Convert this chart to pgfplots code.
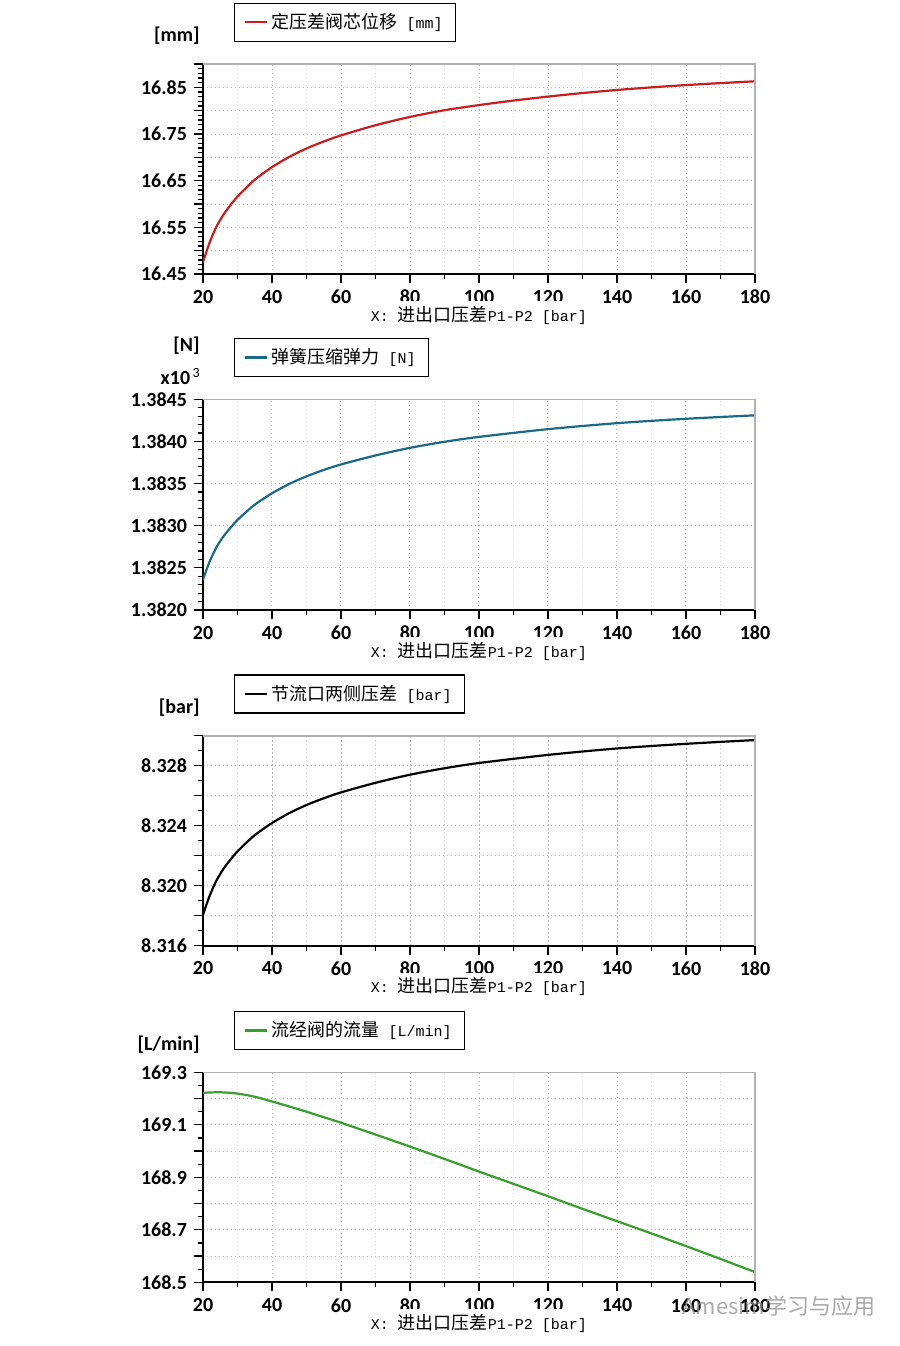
\documentclass[border=0pt]{standalone}
\usepackage{fontspec}
\setmainfont{Carlito}
\setmonofont{Liberation Mono}
\newfontfamily\cjk{Noto Sans CJK SC}
\usepackage{pgfplots}
\usepackage{pgfplotstable}
\pgfplotsset{compat=1.18}
\definecolor{cred}{RGB}{200,30,30}
\definecolor{cblue}{RGB}{25,105,135}
\definecolor{cgreen}{RGB}{55,160,45}
\newcommand\mono[1]{{\ttfamily\fontsize{7.5}{9}\selectfont #1}}
\newcommand\zh[1]{{\cjk\fontsize{9}{11}\selectfont #1}}
\newcommand\bl[1]{{\bfseries\fontsize{10}{12}\selectfont #1}}

\pgfplotstableread{
x y
20 16.4750
21 16.4980
22 16.5190
23 16.5370
24 16.5530
25 16.5660
26 16.5780
28 16.5980
30 16.6160
32 16.6310
35 16.6520
40 16.6790
45 16.7010
50 16.7190
55 16.7340
60 16.7470
70 16.7688
80 16.7866
90 16.8010
100 16.8120
110 16.8217
120 16.8302
130 16.8378
140 16.8444
150 16.8500
160 16.8549
170 16.8591
180 16.8630
}\tabA
\pgfplotstableread{
x y
20 1.382360
21 1.382476
22 1.382581
23 1.382672
24 1.382752
25 1.382817
26 1.382878
28 1.382978
30 1.383069
32 1.383144
35 1.383250
40 1.383385
45 1.383496
50 1.383586
55 1.383662
60 1.383727
70 1.383834
80 1.383924
90 1.383996
100 1.384054
120 1.384146
140 1.384217
160 1.384269
180 1.384310
}\tabB
\pgfplotstableread{
x y
20 8.31805
21 8.31874
22 8.31937
23 8.31991
24 8.32039
25 8.32078
26 8.32115
28 8.32175
30 8.32229
32 8.32274
35 8.32337
40 8.32418
45 8.32484
50 8.32538
55 8.32583
60 8.32622
70 8.32686
80 8.32740
90 8.32783
100 8.32818
120 8.32872
140 8.32915
160 8.32946
180 8.32971
}\tabC
\pgfplotstableread{
x y
20 169.222
25 169.224
30 169.219
35 169.207
40 169.189
45 169.170
50 169.150
55 169.129
60 169.108
70 169.063
80 169.017
90 168.970
100 168.922
110 168.875
120 168.828
130 168.780
140 168.733
150 168.686
160 168.638
170 168.589
180 168.539
}\tabD

\pgfplotsset{
  myax/.style={
    scale only axis, width=276pt, anchor=south west,
    clip mode=individual,
    xmin=20, xmax=180,
    xtick={20,40,60,80,100,120,140,160,180},
    xticklabels={20,40,60,80,100,120,140,160,180},
    minor x tick num=1,
    axis x line*=bottom, axis y line*=left,
    axis line style={-, line width=0.9pt, black},
    tick align=outside, major tick length=4.5pt, minor tick length=2.5pt,
    tick style={black, line width=0.6pt},
    xmajorgrids, ymajorgrids, xminorgrids,
    major grid style={draw=black!28, line width=0.5pt, dash pattern=on 0.7pt off 1.3pt},
    minor grid style={draw=black!14, line width=0.5pt, dash pattern=on 0.7pt off 1.3pt},
    ticklabel style={font=\bfseries\fontsize{10}{12}\selectfont},
    xlabel={\mono{X:\ }\zh{进出口压差}\mono{P1-P2 [bar]}},
    xlabel style={at={(axis description cs:0.5,0)}, anchor=center, yshift=-20.5pt,
      fill=white, inner xsep=4pt, inner ysep=2.5pt},
    legend style={at={(axis description cs:0.056,1.105)}, anchor=south west,
      draw=black, line width=0.6pt, inner xsep=4.5pt, inner ysep=3pt,
      legend cell align=left},
    legend image code/.code={\draw[#1, line width=1.1pt] (0pt,0pt) -- (11pt,0pt);},
  }
}

\begin{document}
\begin{tikzpicture}
\path[use as bounding box] (0pt,0pt) rectangle (450pt,-673pt);

% ---------- plot 1
\begin{axis}[myax, at={(101.5pt,-137pt)}, height=105pt,
  ymin=16.45, ymax=16.90,
  ytick={16.45,16.50,16.55,16.60,16.65,16.70,16.75,16.80,16.85,16.90},
  yticklabels={16.45,,16.55,,16.65,,16.75,,16.85,},
  minor y tick num=4]
\addplot[cred, line width=1.1pt, smooth] table[x=x,y=y] {\tabA};
\addlegendentry{\zh{定压差阀芯位移}\mono{\ [mm]}}
\draw[black!30, line width=0.8pt] (rel axis cs:0,1) -- (rel axis cs:1,1) -- (rel axis cs:1,0);
\node[anchor=east, inner sep=0pt, xshift=-1.5pt, yshift=14pt] at (rel axis cs:0,1) {\bl{[mm]}};
\end{axis}

% ---------- plot 2
\begin{axis}[myax, at={(101.5pt,-305pt)}, height=105.35pt,
  ymin=1.382, ymax=1.3845,
  ytick={1.382,1.3825,1.383,1.3835,1.384,1.3845},
  yticklabels={1.3820,1.3825,1.3830,1.3835,1.3840,1.3845},
  minor y tick num=4]
\addplot[cblue, line width=1.1pt, smooth] table[x=x,y=y] {\tabB};
\addlegendentry{\zh{弹簧压缩弹力}\mono{\ [N]}}
\draw[black!30, line width=0.8pt] (rel axis cs:0,1) -- (rel axis cs:1,1) -- (rel axis cs:1,0);
\node[anchor=east, inner sep=0pt, xshift=-1.5pt, yshift=27pt] at (rel axis cs:0,1) {\bl{[N]}};
\node[anchor=east, inner sep=0pt, xshift=-1.5pt, yshift=11.5pt] at (rel axis cs:0,1) {\bl{x10}\raisebox{0.7ex}{\fontsize{7}{8}\selectfont\,3}};
\end{axis}

% ---------- plot 3
\begin{axis}[myax, at={(101.5pt,-472.85pt)}, height=105pt,
  ymin=8.316, ymax=8.330,
  ytick={8.316,8.318,8.320,8.322,8.324,8.326,8.328,8.330},
  yticklabels={8.316,,8.320,,8.324,,8.328,},
  minor y tick num=1]
\addplot[black, line width=1.1pt, smooth] table[x=x,y=y] {\tabC};
\addlegendentry{\zh{节流口两侧压差}\mono{\ [bar]}}
\draw[black!30, line width=0.8pt] (rel axis cs:0,1) -- (rel axis cs:1,1) -- (rel axis cs:1,0);
\node[anchor=east, inner sep=0pt, xshift=-1.5pt, yshift=14pt] at (rel axis cs:0,1) {\bl{[bar]}};
\end{axis}

% ---------- plot 4
\begin{axis}[myax, at={(101.5pt,-641.15pt)}, height=105pt,
  ymin=168.5, ymax=169.3,
  ytick={168.5,168.6,168.7,168.8,168.9,169.0,169.1,169.2,169.3},
  yticklabels={168.5,,168.7,,168.9,,169.1,,169.3},
  minor y tick num=1]
\addplot[cgreen, line width=1.1pt, smooth] table[x=x,y=y] {\tabD};
\addlegendentry{\zh{流经阀的流量}\mono{\ [L/min]}}
\draw[black!30, line width=0.8pt] (rel axis cs:0,1) -- (rel axis cs:1,1) -- (rel axis cs:1,0);
\node[anchor=east, inner sep=0pt, xshift=-1.5pt, yshift=14pt] at (rel axis cs:0,1) {\bl{[L/min]}};
\end{axis}

% watermark
\node[anchor=west, text=black!45, opacity=0.75, inner sep=0pt,
  font=\cjk\fontsize{11}{13}\selectfont] at (341pt,-653pt) {Amesim学习与应用};
\end{tikzpicture}
\end{document}
